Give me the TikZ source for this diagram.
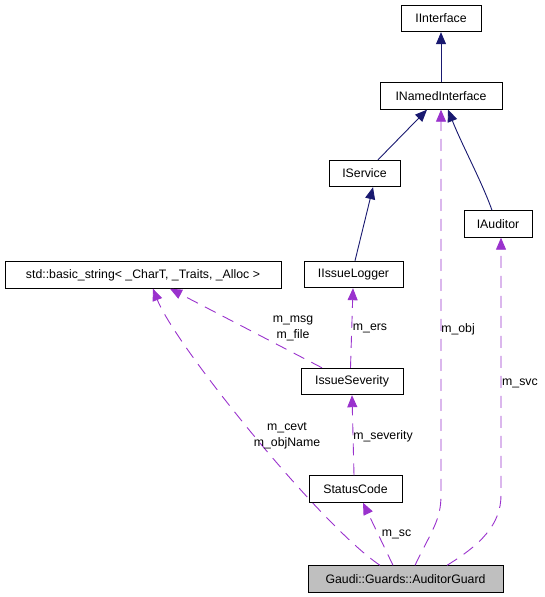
\documentclass[tikz,border=0pt]{standalone}
\usepackage{fontspec}
\setmainfont{Liberation Sans}
\usetikzlibrary{arrows.meta,calc}
\definecolor{navyedge}{HTML}{191970}
\definecolor{purpedge}{HTML}{9A32CD}
\definecolor{guardfill}{HTML}{BFBFBF}
\tikzset{
  cls/.style={draw=black, line width=0.9pt, inner sep=0pt, minimum height=26.5pt, font=\fontsize{12.3}{14}\selectfont},
  inherit/.style={navyedge, line width=0.9pt, -{Triangle[length=12pt,width=10pt]}},
  usage/.style={purpedge, line width=0.9pt, dash pattern=on 12pt off 8pt, -{Triangle[length=12pt,width=10pt]}},
  lbl/.style={inner sep=0pt, align=center, font=\fontsize{12.3}{15.5}\selectfont},
}
\begin{document}
\begin{tikzpicture}[x=1pt,y=-1pt]
\useasboundingbox (0,0) rectangle (544,597);
% classes
\node[cls, minimum width=80pt] (iif) at (441,18.5) {IInterface};
\node[cls, minimum width=122pt] (inamed) at (441,96) {INamedInterface};
\node[cls, minimum width=71pt] (isvc) at (364.5,173.5) {IService};
\node[cls, minimum width=68pt] (iaud) at (498,224) {IAuditor};
\node[cls, minimum width=276pt] (bstr) at (143,275) {std::basic\_string< \_CharT, \_Traits, \_Alloc >};
\node[cls, minimum width=99pt] (ilog) at (353.5,274.5) {IIssueLogger};
\node[cls, minimum width=102pt] (isev) at (352,381.5) {IssueSeverity};
\node[cls, minimum width=93pt] (scode) at (355.5,489) {StatusCode};
\node[cls, minimum width=195pt, fill=guardfill] (guard) at (405.5,579) {Gaudi::Guards::AuditorGuard};
% inheritance
\draw[inherit] (inamed.north) -- (iif.south);
\draw[inherit] ([xshift=13.5pt]isvc.north) -- ([xshift=-14pt]inamed.south);
\draw[inherit] ([xshift=-6pt]iaud.north) .. controls (482,182) and (462,145) .. ([xshift=7pt]inamed.south);
\draw[inherit] ([xshift=1.5pt]ilog.north) -- ([xshift=8.5pt]isvc.south);
% usage
\draw[usage] ([xshift=-1.5pt]isev.north) -- ([xshift=-0.5pt]ilog.south);
\draw[usage] ([xshift=-30pt]isev.north) -- ([xshift=27pt]bstr.south);
\draw[usage] ([xshift=-1.5pt]scode.north) -- ([xshift=0pt]isev.south);
\draw[usage] ([xshift=-12.5pt]guard.north) -- ([xshift=7.5pt]scode.south);
\draw[usage] ([xshift=-25.5pt]guard.north) .. controls (320,525) and (175,345) .. ([xshift=10pt]bstr.south);
\draw[usage] ([xshift=9.5pt]guard.north) .. controls (432,530) and (441,520) .. (441,495) -- (inamed.south);
\draw[usage] ([xshift=41.5pt]guard.north) .. controls (480,545) and (501,525) .. (501,495) -- ([xshift=3pt]iaud.south);
% labels
\node[lbl] (lmsg) at (293,328.5) {m\_msg\\m\_file};
\node[lbl] (lers) at (370,328) {m\_ers};
\node[lbl] (lobj) at (458,329) {m\_obj};
\node[lbl] (lsvc) at (520,383) {m\_svc};
\node[lbl] (lcevt) at (287,436) {m\_cevt\\m\_objName};
\node[lbl] (lsev) at (383,436) {m\_severity};
\node[lbl] (lsc) at (396.5,534) {m\_sc};
\end{tikzpicture}
\end{document}
